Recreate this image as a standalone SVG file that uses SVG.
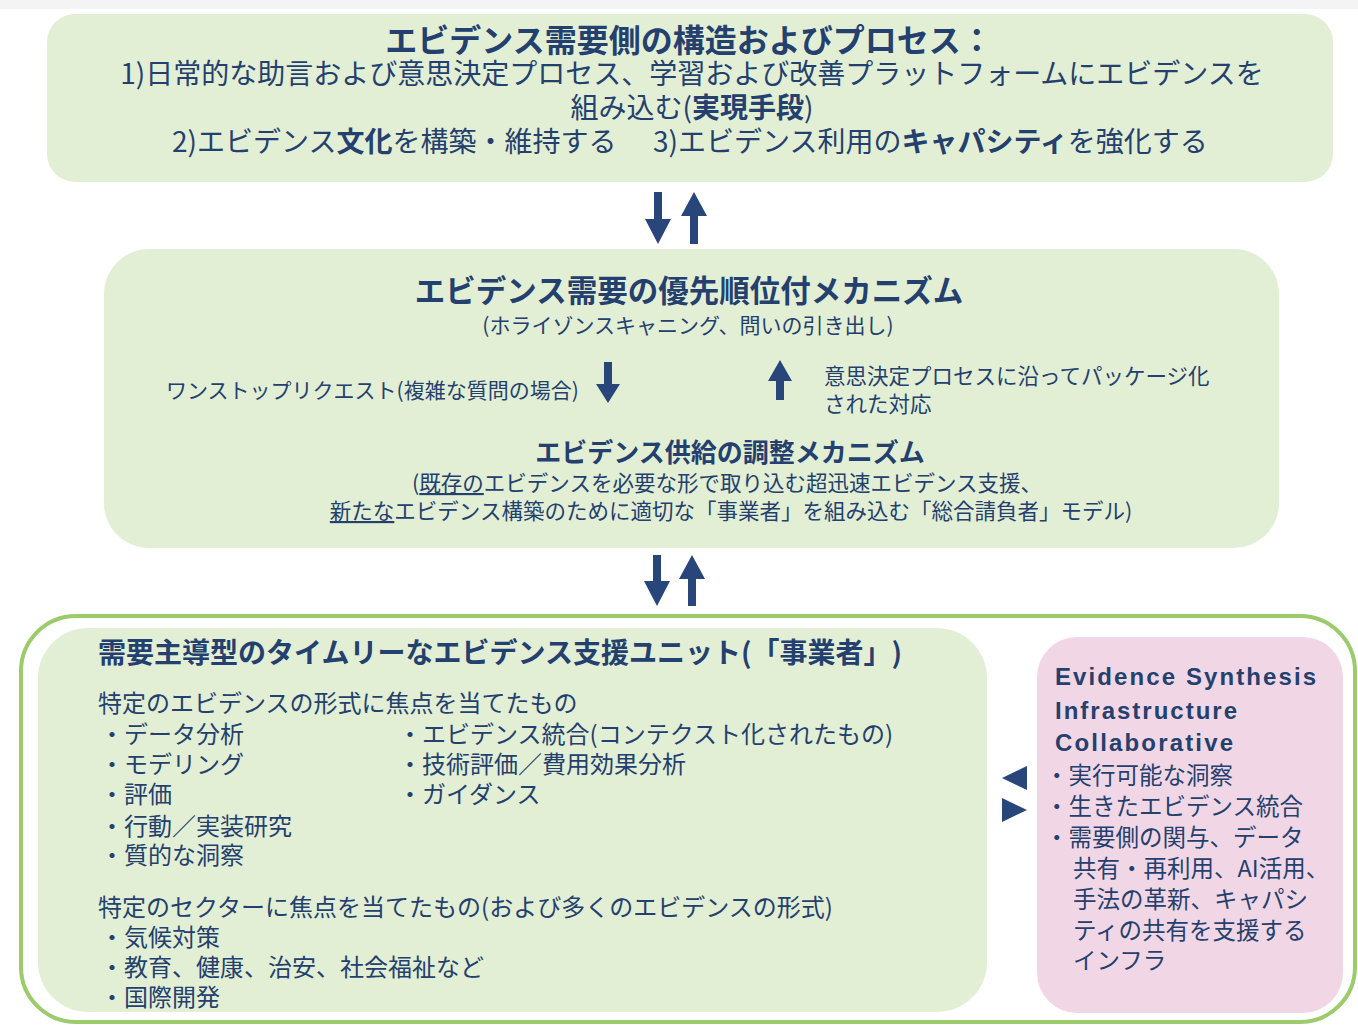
<svg xmlns="http://www.w3.org/2000/svg" width="1358" height="1026" viewBox="0 0 1358 1026">
<style>
.jp{font-family:"Noto Sans CJK JP","Noto Sans",sans-serif;fill:#24406e;text-spacing-trim:space-all}
.en{font-family:"Liberation Sans",Arial,sans-serif;font-weight:bold;fill:#24406e}
.b{font-weight:bold}
.green{fill:#e2efd5}
.arrow{fill:#28467a}
</style>
<rect x="0" y="0" width="1358" height="9" fill="#f4f4f4"/>
<g id="top-box">
<rect class="green" x="47" y="14" width="1286" height="168" rx="28"/>
<text class="jp b" x="689" y="52" font-size="32" text-anchor="middle">エビデンス需要側の構造およびプロセス：</text>
<text class="jp" x="692" y="84" font-size="28" text-anchor="middle">1)日常的な助言および意思決定プロセス、学習および改善プラットフォームにエビデンスを</text>
<text class="jp" x="692" y="118" font-size="28" text-anchor="middle">組み込む(<tspan class="b">実現手段</tspan>)</text>
<text class="jp" x="172" y="152" font-size="28">2)エビデンス<tspan class="b">文化</tspan>を構築・維持する</text>
<text class="jp" x="653" y="152" font-size="28">3)エビデンス利用の<tspan class="b">キャパシティ</tspan>を強化する</text>
</g>
<g id="middle-box">
<rect class="green" x="104" y="249" width="1175" height="299" rx="45"/>
<text class="jp b" x="689" y="302" font-size="30.5" text-anchor="middle">エビデンス需要の優先順位付メカニズム</text>
<text class="jp" x="688" y="333" font-size="21" text-anchor="middle">(ホライゾンスキャニング、問いの引き出し)</text>
<text class="jp" x="166" y="398" font-size="21">ワンストップリクエスト(複雑な質問の場合)</text>
<text class="jp" x="824" y="384" font-size="21.5">意思決定プロセスに沿ってパッケージ化</text>
<text class="jp" x="824" y="412" font-size="21.5">された対応</text>
<text class="jp b" x="730" y="462" font-size="26" text-anchor="middle">エビデンス供給の調整メカニズム</text>
<text class="jp" x="727" y="491" font-size="21.5" text-anchor="middle">(<tspan text-decoration="underline">既存の</tspan>エビデンスを必要な形で取り込む超迅速エビデンス支援、</text>
<text class="jp" x="731" y="519" font-size="21.5" text-anchor="middle"><tspan text-decoration="underline">新たな</tspan>エビデンス構築のために適切な「事業者」を組み込む「総合請負者」モデル)</text>
</g>
<g id="bottom-container">
<rect x="21" y="616" width="1334" height="406" rx="55" fill="#ffffff" stroke="#9bcb6b" stroke-width="4"/>
</g>
<g id="delivery-unit">
<rect class="green" x="38" y="628" width="949" height="384" rx="50"/>
<text class="jp b" x="98" y="663" font-size="28">需要主導型のタイムリーなエビデンス支援ユニット(「事業者」)</text>
<text class="jp" x="98" y="712" font-size="24">特定のエビデンスの形式に焦点を当てたもの</text>
<text class="jp" x="100" y="743" font-size="24">・データ分析</text>
<text class="jp" x="100" y="773" font-size="24">・モデリング</text>
<text class="jp" x="100" y="803" font-size="24">・評価</text>
<text class="jp" x="100" y="835" font-size="24">・行動／実装研究</text>
<text class="jp" x="100" y="864" font-size="24">・質的な洞察</text>
<text class="jp" x="398" y="743" font-size="24">・エビデンス統合(コンテクスト化されたもの)</text>
<text class="jp" x="398" y="773" font-size="24">・技術評価／費用効果分析</text>
<text class="jp" x="398" y="803" font-size="24">・ガイダンス</text>
<text class="jp" x="98" y="916" font-size="24">特定のセクターに焦点を当てたもの(および多くのエビデンスの形式)</text>
<text class="jp" x="100" y="946" font-size="24">・気候対策</text>
<text class="jp" x="100" y="976" font-size="24">・教育、健康、治安、社会福祉など</text>
<text class="jp" x="100" y="1006" font-size="24">・国際開発</text>
</g>
<g id="esic">
<rect x="1037" y="637" width="306" height="376" rx="40" fill="#f1d7e6"/>
<text class="en" x="1055" y="685" font-size="24" textLength="261" lengthAdjust="spacing">Evidence Synthesis</text>
<text class="en" x="1055" y="719" font-size="24" textLength="182" lengthAdjust="spacing">Infrastructure</text>
<text class="en" x="1055" y="751" font-size="24" textLength="178" lengthAdjust="spacing">Collaborative</text>
<text class="jp" x="1045" y="784" font-size="23.5">・実行可能な洞察</text>
<text class="jp" x="1045" y="815" font-size="23.5">・生きたエビデンス統合</text>
<text class="jp" x="1045" y="846" font-size="23.5">・需要側の関与、データ</text>
<text class="jp" x="1073" y="877" font-size="23.5">共有・再利用、AI活用、</text>
<text class="jp" x="1073" y="908" font-size="23.5">手法の革新、キャパシ</text>
<text class="jp" x="1073" y="939" font-size="23.5">ティの共有を支援する</text>
<text class="jp" x="1073" y="969" font-size="23.5">インフラ</text>
</g>
<g id="connectors">
<path class="arrow" d="M654,192 H662 V219 H671 L658,244 L645,219 H654 Z"/>
<path class="arrow" d="M694,192 L707,216 H698 V244 H690 V216 H681 Z"/>
<path class="arrow" d="M604,362 H612 V384 H620 L608,403 L596,384 H604 Z"/>
<path class="arrow" d="M780,360 L792,381 H784 V400 H776 V381 H768 Z"/>
<path class="arrow" d="M653,555 H661 V581 H670 L657,606 L644,581 H653 Z"/>
<path class="arrow" d="M692,555 L705,579 H696 V606 H688 V579 H679 Z"/>
<path class="arrow" d="M1002,778 L1027,766 V790 Z"/>
<path class="arrow" d="M1027,810 L1002,798 V822 Z"/>
</g>
</svg>
